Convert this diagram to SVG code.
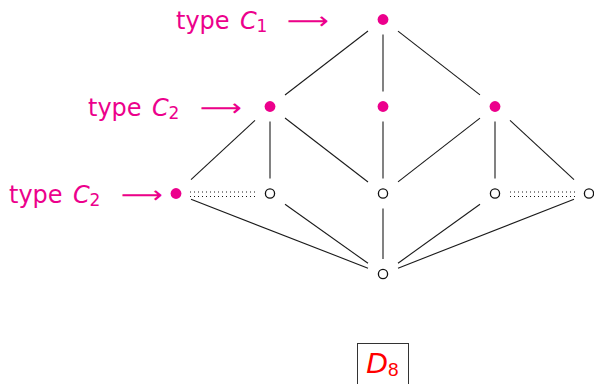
<svg xmlns="http://www.w3.org/2000/svg" width="594" height="384" viewBox="0 0 594 384">
<style>
.lbl{font-family:"DejaVu Sans",sans-serif;font-size:24px;fill:#ec008c}
.it{font-style:italic}
.sub{font-size:17px}
.e{stroke:#1a1a1a;stroke-width:1.1;fill:none}
.dot{stroke:#1a1a1a;stroke-width:1;stroke-dasharray:1 3;fill:none}
.full{fill:#ec008c}
.open{fill:#fff;stroke:#111;stroke-width:1.3}
</style>
<rect width="594" height="384" fill="#fff"/>
<g id="connectors">
<line class="e" x1="368" y1="31.05" x2="285" y2="94.95"/>
<line class="e" x1="383" y1="34.5" x2="383" y2="91.5"/>
<line class="e" x1="398" y1="31.15" x2="480" y2="94.85"/>
<line class="e" x1="255" y1="120.38" x2="191" y2="179.62"/>
<line class="e" x1="270" y1="121.5" x2="270" y2="178.5"/>
<line class="e" x1="285" y1="118.05" x2="368" y2="181.95"/>
<line class="e" x1="383" y1="121.5" x2="383" y2="178.5"/>
<line class="e" x1="480" y1="118.15" x2="398" y2="181.85"/>
<line class="e" x1="495" y1="121.5" x2="495" y2="178.5"/>
<line class="e" x1="510" y1="120.38" x2="574" y2="179.62"/>
<line class="e" x1="191" y1="199.33" x2="368" y2="268.17"/>
<line class="e" x1="285" y1="204.19" x2="368" y2="263.31"/>
<line class="e" x1="383" y1="208.5" x2="383" y2="259"/>
<line class="e" x1="480" y1="204.28" x2="398" y2="263.22"/>
<line class="e" x1="574" y1="199.36" x2="398" y2="268.14"/>
<line class="dot" x1="190" y1="192" x2="257" y2="192"/>
<line class="dot" x1="190" y1="196.5" x2="257" y2="196.5"/>
<line class="dot" x1="510" y1="192" x2="577" y2="192"/>
<line class="dot" x1="510" y1="196.5" x2="577" y2="196.5"/>
</g>
<g id="nT"><circle class="full" cx="383" cy="19.5" r="5.4"/></g>
<g id="nA"><circle class="full" cx="270" cy="106.5" r="5.4"/></g>
<g id="nB"><circle class="full" cx="383" cy="106.5" r="5.4"/></g>
<g id="nC"><circle class="full" cx="495" cy="106.5" r="5.4"/></g>
<g id="nP"><circle class="full" cx="176" cy="193.5" r="5.4"/></g>
<g id="nQ"><circle class="open" cx="270" cy="193.5" r="4.6"/></g>
<g id="nR"><circle class="open" cx="383" cy="193.5" r="4.6"/></g>
<g id="nS"><circle class="open" cx="495" cy="193.5" r="4.6"/></g>
<g id="nU"><circle class="open" cx="589" cy="193.5" r="4.6"/></g>
<g id="nZ"><circle class="open" cx="383" cy="274" r="4.6"/></g>
<g id="label1">
<text class="lbl" x="176" y="29">type<tspan class="it" x="240">C</tspan><tspan class="sub" x="256.5" dy="3">1</tspan></text>
<text class="lbl" x="287" y="29" textLength="42" lengthAdjust="spacingAndGlyphs">⟶</text>
</g>
<g id="label2">
<text class="lbl" x="88" y="116">type<tspan class="it" x="152">C</tspan><tspan class="sub" x="168.5" dy="3">2</tspan></text>
<text class="lbl" x="200" y="116" textLength="42" lengthAdjust="spacingAndGlyphs">⟶</text>
</g>
<g id="label3">
<text class="lbl" x="9" y="203">type<tspan class="it" x="73">C</tspan><tspan class="sub" x="89.5" dy="3">2</tspan></text>
<text class="lbl" x="121" y="203" textLength="42" lengthAdjust="spacingAndGlyphs">⟶</text>
</g>
<g id="title">
<rect x="357.5" y="343.5" width="51" height="50" fill="none" stroke="#333" stroke-width="1"/>
<text x="366" y="372.5" font-family="'Liberation Sans',sans-serif" font-style="italic" font-size="30" fill="#ff0000">D</text>
<text x="388" y="375.7" font-family="'Liberation Sans',sans-serif" font-size="19" fill="#ff0000">8</text>
</g>
</svg>
